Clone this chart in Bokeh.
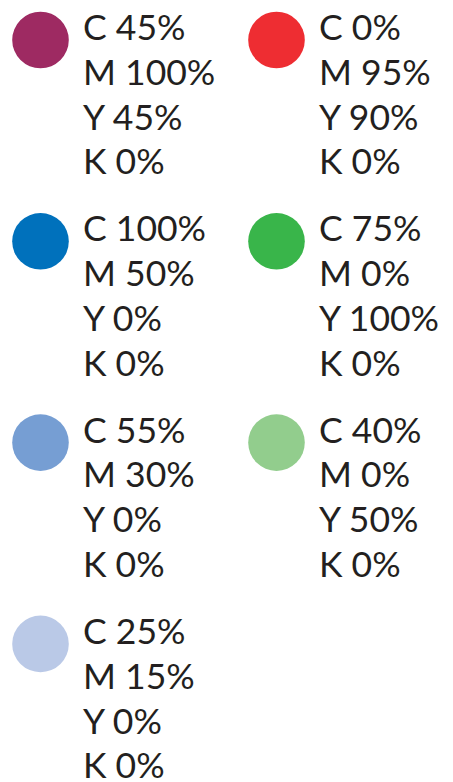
from bokeh.plotting import figure
from bokeh.models import ColumnDataSource, Range1d
from bokeh.core.properties import value
from bokeh.embed import file_html
from bokeh.resources import INLINE

# Swatch data
swatch_colors = ["#9E2A62", "#EE2D32", "#0071BC", "#39B54A", "#769ED3", "#92CD8D", "#BAC9E7"]
cyan = [45, 0, 100, 75, 55, 40, 25]
magenta = [100, 95, 50, 0, 30, 0, 15]
yellow = [45, 90, 0, 100, 0, 50, 0]
black = [0, 0, 0, 0, 0, 0, 0]
channel_labels = ["C", "M", "Y", "K"]

W, H = 453, 782
p = figure(width=W, height=H, output_backend="svg", toolbar_location=None,
           x_range=Range1d(0, W), y_range=Range1d(H, 0),
           min_border=0, outline_line_color=None)
p.axis.visible = False
p.grid.visible = False
p.background_fill_color = "white"

col_x = [40.0, 276.0]
row_dy = 201.3
cx, cy, cc = [], [], []
tx, ty, tt = [], [], []
for i, c in enumerate(swatch_colors):
    col = i % 2
    row = i // 2
    x0 = col_x[col]
    y0 = 39.5 + row * row_dy
    cx.append(x0); cy.append(y0); cc.append(c)
    vals = [cyan[i], magenta[i], yellow[i], black[i]]
    for j, (lab, v) in enumerate(zip(channel_labels, vals)):
        tx.append(x0 + 42.5)
        ty.append(26.0 + row * row_dy + j * 44.8)
        tt.append(f"{lab} {v}%")

p.circle(x="x", y="y", radius=28.3, fill_color="c", line_color=None,
         source=ColumnDataSource(dict(x=cx, y=cy, c=cc)))
p.text(x="x", y="y", text="t", source=ColumnDataSource(dict(x=tx, y=ty, t=tt)),
       text_font=value("Lato"), text_font_size="35.5px", text_color="#231F20",
       text_baseline="alphabetic", text_align="left")

open("out.html", "w").write(file_html(p, INLINE))
